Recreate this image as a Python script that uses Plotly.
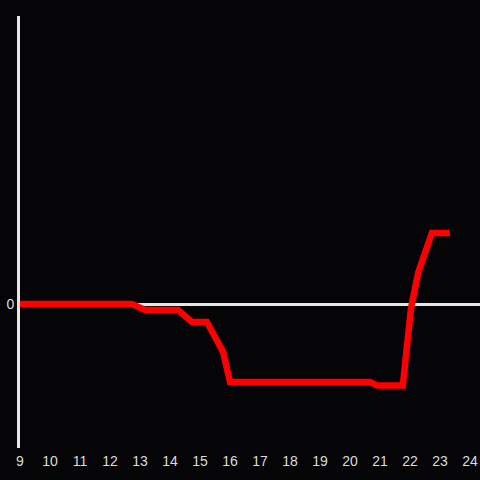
import plotly.graph_objects as go

hours = [9.0, 12.73, 13.17, 14.27, 14.73, 15.23, 15.77, 16.0, 20.67, 20.9, 21.76, 22.03, 22.27, 22.73, 23.33]
values = [0, 0, -0.125, -0.125, -0.375, -0.375, -1.0, -1.625, -1.625, -1.7, -1.7, -0.1, 0.65, 1.48, 1.48]
tick_vals = list(range(9, 25))
tick_text = [str(v) for v in tick_vals]

bg = "#050407"
fg = "#dcdcdc"

fig = go.Figure()
fig.add_trace(go.Scatter(x=hours, y=values, mode="lines",
                         line=dict(color="#ff0000", width=6.5), hoverinfo="skip"))
fig.update_layout(
    width=480, height=480,
    paper_bgcolor=bg, plot_bgcolor=bg,
    margin=dict(l=20, r=0, t=16, b=32),
    showlegend=False,
    font=dict(family="Liberation Sans, Arial, sans-serif", size=14, color=fg),
    xaxis=dict(range=[9, 24.333], tickvals=tick_vals, ticktext=tick_text,
               showgrid=False, zeroline=False, showline=False, ticks="",
               ticklabelstandoff=3, fixedrange=True),
    yaxis=dict(range=[-3, 6], tickvals=[0], ticktext=["0"], showgrid=False,
               zeroline=True, zerolinecolor="#e6e6e6", zerolinewidth=3,
               showline=True, linecolor="#e6e6e6", linewidth=3, ticks="",
               fixedrange=True),
)
fig.write_html("out.html", config={"displayModeBar": False},
               post_script="document.body.style.margin='0';document.body.style.background='%s';" % bg)
